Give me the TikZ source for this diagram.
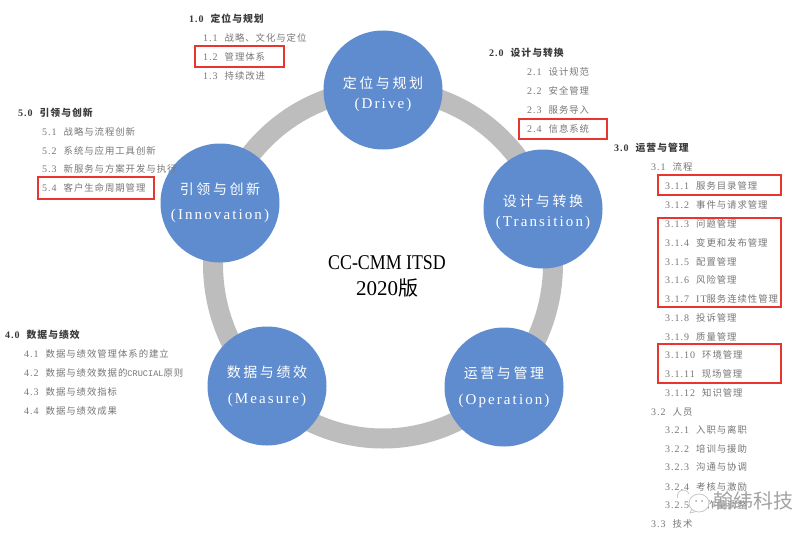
\documentclass[tikz,border=0pt]{standalone}
\usepackage{fontspec}
\setmainfont{Liberation Serif}
\newfontfamily\cjk[LetterSpace=10]{Noto Sans CJK SC}
\newfontfamily\cjkd[LetterSpace=18]{Noto Sans CJK SC}
\newfontfamily\cjkt{Noto Sans CJK SC}
\newfontfamily\cjkb[LetterSpace=10]{Noto Sans CJK SC Bold}
\newfontfamily\lat{Liberation Mono}
\newfontfamily\latn[LetterSpace=10]{Liberation Serif}
\newfontfamily\latd[LetterSpace=14]{Liberation Serif}
\newfontfamily\latt[FakeStretch=0.85]{Liberation Serif}
\definecolor{ringgray}{HTML}{BDBDBD}
\definecolor{discblue}{HTML}{5E8CCE}
\definecolor{itemgray}{HTML}{777777}
\definecolor{headgray}{HTML}{3A3A3A}
\definecolor{boxred}{HTML}{E8352E}
\definecolor{wmgray}{HTML}{A3A3A3}
\newcommand{\latS}{\fontsize{10}{10}\latn\selectfont}
\newcommand{\cjS}{\fontsize{9.4}{10}\cjk\selectfont}
\newcommand{\cjB}{\fontsize{9.8}{10}\cjkb\selectfont}
\newcommand{\dC}{\fontsize{14}{14}\cjkd\selectfont}
\newcommand{\dL}{\fontsize{15}{15}\latd\selectfont}
\tikzset{
  disc/.style={circle,fill=discblue,minimum size=119pt,inner sep=0pt,align=center,text=white},
  ringarc/.style={draw=ringgray,line width=20pt},
  heading/.style={anchor=west,inner sep=0pt,text=headgray},
  entry/.style={anchor=west,inner sep=0pt,text=itemgray},
  redbox/.style={draw=boxred,line width=1.5pt,inner sep=0pt,anchor=north west},
  title/.style={align=center,inner sep=0pt,text=black},
  mark text/.style={inner sep=0pt,anchor=west,text=wmgray,font=\fontsize{20}{20}\cjkt\selectfont},
  bubble/.style={draw=wmgray!60,line width=0.8pt}
}
\newcommand{\en}[5]{\node[entry] (#1) at (#2,#3) {\latS #4\hspace{7pt}\cjS #5};}
\newcommand{\hdc}[5]{\node[heading] (#1) at (#2,#3) {\fontsize{10}{10}\latn\bfseries\selectfont #4\hspace{7pt}\cjB #5};}
\newcommand{\rbox}[5]{\node[redbox,minimum width=#4pt,minimum height=#5pt] (#1) at (#2,#3) {};}
\begin{document}
\begin{tikzpicture}[x=1pt,y=-1pt]
\useasboundingbox (0,0) rectangle (800,538);
\fill[white] (0,0) rectangle (800,538);
\draw[ringarc] (383,264) ellipse[x radius=170pt,y radius=174.5pt];
\node[disc] (drive) at (383,90) {\rule{0pt}{20pt}\dC 定位与规划\\[8pt]\dL (Drive)};
\node[disc] (trans) at (543,209) {\rule{0pt}{18pt}\dC 设计与转换\\[8pt]\dL (Transition)};
\node[disc] (oper) at (504,387) {\dC 运营与管理\\[14pt]\dL (Operation)};
\node[disc] (meas) at (267,386) {\dC 数据与绩效\\[14pt]\dL (Measure)};
\node[disc] (innov) at (220,203) {\dC 引领与创新\\[13pt]\dL (Innovation)};
\node[title] (ttl) at (387,276) {\fontsize{21}{21}\latt\selectfont CC-CMM ITSD\\[8pt]\fontsize{21}{21}\rmfamily\selectfont 2020{\fontsize{20}{21}\cjkt\selectfont 版}};
\hdc{h1}{189}{19}{1.0}{定位与规划}
\en{a11}{203}{38}{1.1}{战略、文化与定位}
\en{a12}{203}{57}{1.2}{管理体系}
\en{a13}{203}{76}{1.3}{持续改进}
\rbox{r12}{194}{45}{89}{21}
\hdc{h2}{489}{53}{2.0}{设计与转换}
\en{a21}{527}{72}{2.1}{设计规范}
\en{a22}{527}{91}{2.2}{安全管理}
\en{a23}{527}{110}{2.3}{服务导入}
\en{a24}{527}{129}{2.4}{信息系统}
\rbox{r24}{518}{118}{88}{20}
\hdc{h3}{614}{148}{3.0}{运营与管理}
\en{a31}{651}{167}{3.1}{流程}
\en{a311}{665}{186}{3.1.1}{服务目录管理}
\en{a312}{665}{205}{3.1.2}{事件与请求管理}
\en{a313}{665}{224}{3.1.3}{问题管理}
\en{a314}{665}{243}{3.1.4}{变更和发布管理}
\en{a315}{665}{262}{3.1.5}{配置管理}
\en{a316}{665}{280}{3.1.6}{风险管理}
\node[entry] (a317) at (665,299) {\latS 3.1.7\hspace{7pt}IT{\cjS 服务连续性管理}};
\en{a318}{665}{318}{3.1.8}{投诉管理}
\en{a319}{665}{337}{3.1.9}{质量管理}
\en{a3110}{665}{355}{3.1.10}{环境管理}
\en{a3111}{665}{374}{3.1.11}{现场管理}
\en{a3112}{665}{393}{3.1.12}{知识管理}
\en{a32}{651}{412}{3.2}{人员}
\en{a321}{665}{430}{3.2.1}{入职与离职}
\en{a322}{665}{449}{3.2.2}{培训与援助}
\en{a323}{665}{467}{3.2.3}{沟通与协调}
\en{a324}{665}{487}{3.2.4}{考核与激励}
\en{a325}{665}{505}{3.2.5}{工作量调整}
\en{a33}{651}{524}{3.3}{技术}
\rbox{r311}{657}{174}{123}{20}
\rbox{r313}{657}{217}{123}{89}
\rbox{r3110}{657}{343}{123}{39}
\hdc{h4}{5}{335}{4.0}{数据与绩效}
\en{a41}{24}{354}{4.1}{数据与绩效管理体系的建立}
\node[entry] (a42) at (24,373) {\latS 4.2\hspace{7pt}{\cjS 数据与绩效数据的}{\fontsize{8.6}{10}\lat\selectfont CRUCIAL}{\cjS 原则}};
\en{a43}{24}{392}{4.3}{数据与绩效指标}
\en{a44}{24}{411}{4.4}{数据与绩效成果}
\hdc{h5}{18}{113}{5.0}{引领与创新}
\en{a51}{42}{132}{5.1}{战略与流程创新}
\en{a52}{42}{151}{5.2}{系统与应用工具创新}
\en{a53}{42}{169}{5.3}{新服务与方案开发与执行}
\en{a54}{42}{188}{5.4}{客户生命周期管理}
\rbox{r54}{37}{176}{116}{22}
% watermark
\draw[bubble,fill=white] (699,503) ellipse[x radius=10pt,y radius=9pt];
\draw[bubble] (692,509) -- (690,513) -- (696,511.5);
\fill[wmgray] (696,501) circle[radius=1pt] (702,501) circle[radius=1pt];
\draw[bubble] (689,494) arc[start angle=20,end angle=200,radius=6pt];
\node[mark text] (wm) at (713,501) {翰纬科技};
\end{tikzpicture}
\end{document}
